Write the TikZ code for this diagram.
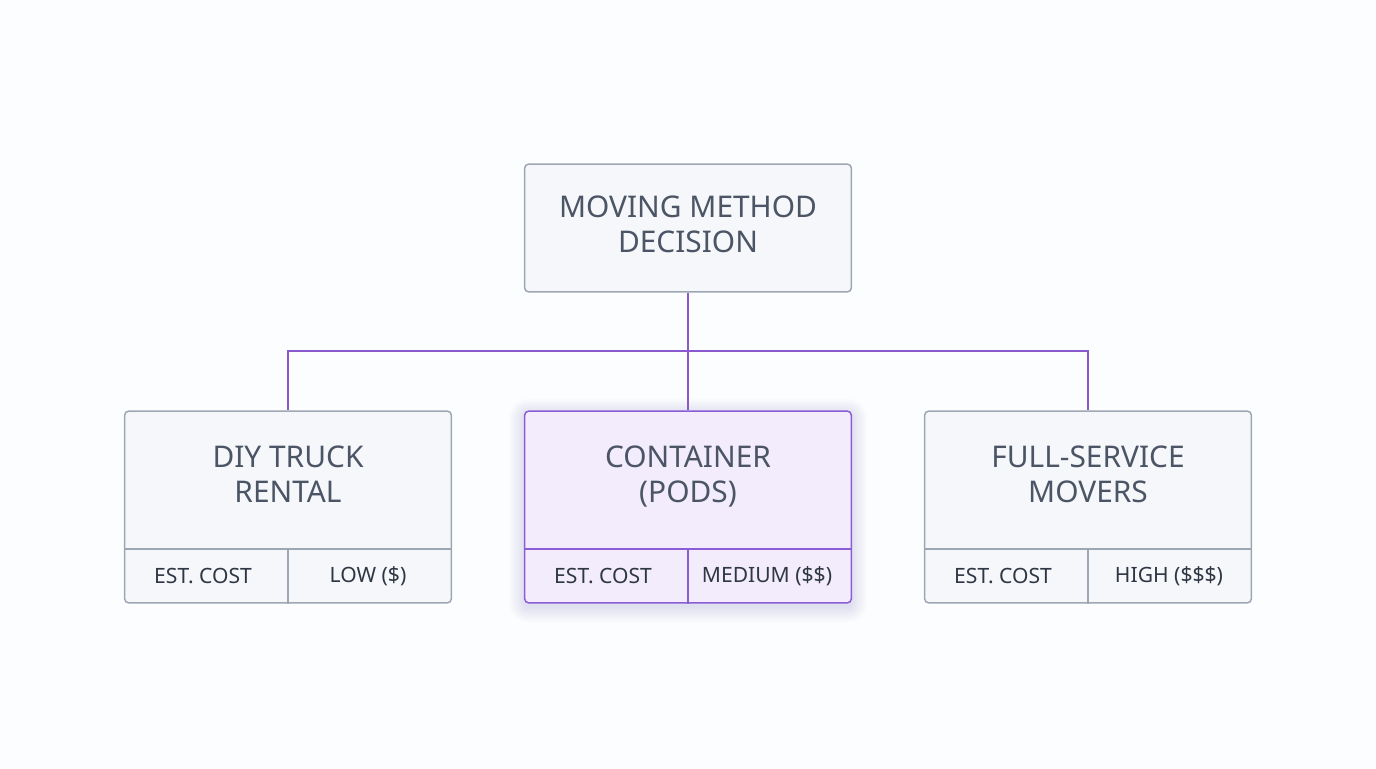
\documentclass[tikz,border=0pt]{standalone}
\usepackage{fontspec}
\setmainfont{Noto Sans}
\usetikzlibrary{positioning}

\definecolor{paper}{HTML}{FCFDFE}
\definecolor{boxfill}{HTML}{F5F7FA}
\definecolor{boxline}{HTML}{9DA7B4}
\definecolor{podfill}{HTML}{F2ECFC}
\definecolor{podline}{HTML}{8B5CD6}
\definecolor{linkcol}{HTML}{8A58CF}
\definecolor{ink}{HTML}{4B5565}
\definecolor{darkink}{HTML}{2F3744}

\begin{document}
\begin{tikzpicture}[x=0.02cm, y=-0.02cm,
    box/.style={draw=boxline, line width=0.85pt, fill=boxfill, rounded corners=2.5pt,
        minimum width=6.54cm, inner sep=0pt},
    title/.style={text=ink, font=\fontsize{17}{20}\selectfont, align=center, text depth=0.25em},
    cell/.style={text=darkink, font=\fontsize{12}{14}\selectfont},
    link/.style={draw=linkcol, line width=1.1pt}]
    \useasboundingbox[fill=paper] (0,0) rectangle (1376,768);

    % decision at the top
    \node[box, minimum height=2.56cm] (top) at (688,228) {};
    \node[title] (toptext) at (688,226) {MOVING METHOD\\DECISION};

    % glow under the chosen option
    \foreach \g in {1,...,14}{
        \pgfmathsetmacro{\rr}{2.5+0.6*\g}
        \fill[podline, opacity=0.012, rounded corners=\rr pt]
            (524.5-1.1*\g,414-1.1*\g) rectangle (851.5+1.1*\g,607+1.1*\g);
    }

    % the three options
    \node[box, minimum height=3.84cm] (diy) at (288,507) {};
    \node[box, minimum height=3.84cm, draw=podline, fill=podfill] (pods) at (688,507) {};
    \node[box, minimum height=3.84cm] (full) at (1088,507) {};

    \draw[boxline, line width=0.85pt] (diy.west |- 0,549) -- (diy.east |- 0,549);
    \draw[boxline, line width=0.85pt] (diy.center |- 0,549) -- (diy.south);
    \draw[podline, line width=0.85pt] (pods.west |- 0,549) -- (pods.east |- 0,549);
    \draw[podline, line width=0.85pt] (pods.center |- 0,549) -- (pods.south);
    \draw[boxline, line width=0.85pt] (full.west |- 0,549) -- (full.east |- 0,549);
    \draw[boxline, line width=0.85pt] (full.center |- 0,549) -- (full.south);

    \node[title] (diytext) at (288,476) {DIY TRUCK\\RENTAL};
    \node[title] (podstext) at (688,476) {CONTAINER\\(PODS)};
    \node[title] (fulltext) at (1088,476) {FULL-SERVICE\\MOVERS};

    \node[cell] (diykey) at (203,576) {EST. COST};
    \node[cell] (diyval) at (368,576) {LOW (\$)};
    \node[cell] (podskey) at (603,576) {EST. COST};
    \node[cell] (podsval) at (767,576) {MEDIUM (\$\$)};
    \node[cell] (fullkey) at (1003,576) {EST. COST};
    \node[cell] (fullval) at (1169,576) {HIGH (\$\$\$)};

    % connectors
    \coordinate (split) at (688,351);
    \draw[link] (top.south) -- (pods.north);
    \draw[link] (split) -| (diy.north);
    \draw[link] (split) -| (full.north);
\end{tikzpicture}
\end{document}
